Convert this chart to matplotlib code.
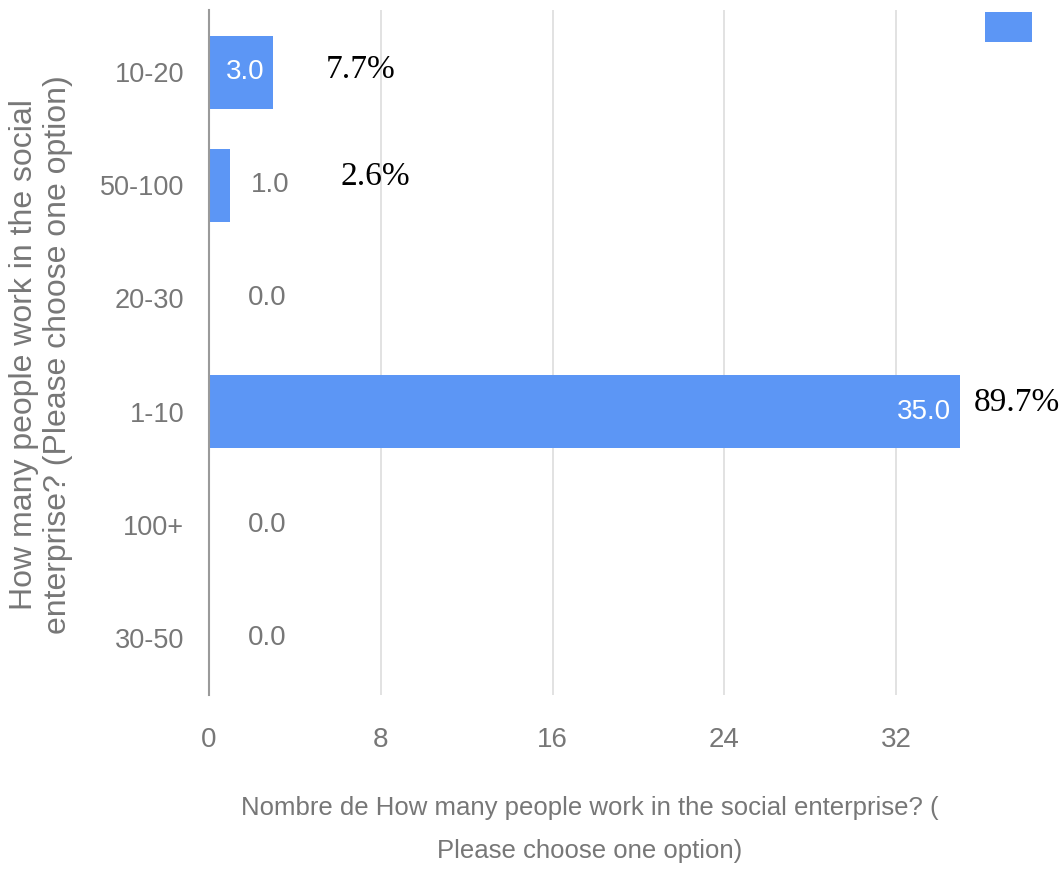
import numpy as np
import matplotlib
matplotlib.use("Agg")
import matplotlib.pyplot as plt

categories = ["10-20", "50-100", "20-30", "1-10", "100+", "30-50"]
counts = [3.0, 1.0, 0.0, 35.0, 0.0, 0.0]
pct_labels = {0: "7.7%", 1: "2.6%", 3: "89.7%"}
x_ticks = [0, 8, 16, 24, 32]

BLUE = "#5c96f5"
GRAY = "#777777"
SANS = "Liberation Sans"

W, H = 1061, 871
fig = plt.figure(figsize=(W / 100, H / 100), dpi=100)
# axes box in pixels: left 209, right 1061, top 10, bottom 695
ax = fig.add_axes([209 / W, 1 - 695 / H, (W - 209) / W, (695 - 10) / H])

y = np.arange(len(categories))
bars = ax.barh(y, counts, height=0.645, color=BLUE, zorder=2)
ax.set_xlim(0, (W - 209) / 21.47)
ax.set_ylim(5.503, -0.548)

ax.set_xticks(x_ticks)
ax.set_xticklabels([str(t) for t in x_ticks], family=SANS, fontsize=20, color=GRAY)
ax.set_yticks(y)
ax.set_yticklabels(categories, family=SANS, fontsize=19.5, color=GRAY)
ax.tick_params(axis="x", length=0, pad=23)
ax.tick_params(axis="y", length=0, pad=18)
ax.grid(axis="x", color="#dddddd", linewidth=1.2, zorder=0)
for s in ["top", "right", "bottom"]:
    ax.spines[s].set_visible(False)
ax.spines["left"].set_color("#9a9a9a")
ax.spines["left"].set_linewidth(1.5)
ax.spines["left"].set_zorder(3)

# value labels: inside the long bars, outside otherwise
for i, v in enumerate(counts):
    txt = f"{v:.1f}"
    if v >= 3:
        ax.annotate(txt, (v, i), xytext=(-9, 0), textcoords="offset pixels",
                    ha="right", va="center", color="white", family=SANS, fontsize=20)
    else:
        off = 20 if v > 0 else 39
        ax.annotate(txt, (v, i), xytext=(off, 0), textcoords="offset pixels",
                    ha="left", va="center", color=GRAY, family=SANS, fontsize=20)

# percentage notes added by hand on the original
pct_offsets = {0: (52, 2), 1: (110, 8), 3: (13, 9)}
for i, lab in pct_labels.items():
    dx, dy = pct_offsets[i]
    ax.annotate(lab, (counts[i], i), xytext=(dx, dy), textcoords="offset pixels",
                ha="left", va="center", color="black", family="Liberation Serif", fontsize=24)

fig.text(41 / W, 1 - 355 / H, "How many people work in the social\nenterprise? (Please choose one option)",
         rotation=90, ha="center", va="center", multialignment="center",
         color=GRAY, fontsize=23, family=SANS, linespacing=1.15)
fig.text(590 / W, 1 - 829 / H, "Nombre de How many people work in the social enterprise? (\nPlease choose one option)",
         ha="center", va="center", multialignment="center",
         color=GRAY, fontsize=18.5, family=SANS, linespacing=2.0)

fig.legend(handles=[bars], labels=[""], loc="upper right",
           bbox_to_anchor=(1032 / W, 1 - 12 / H), frameon=False,
           handlelength=1.7, handleheight=1.26, handletextpad=0, borderpad=0,
           borderaxespad=0, fontsize=20)

fig.savefig("out.png", dpi=100)
